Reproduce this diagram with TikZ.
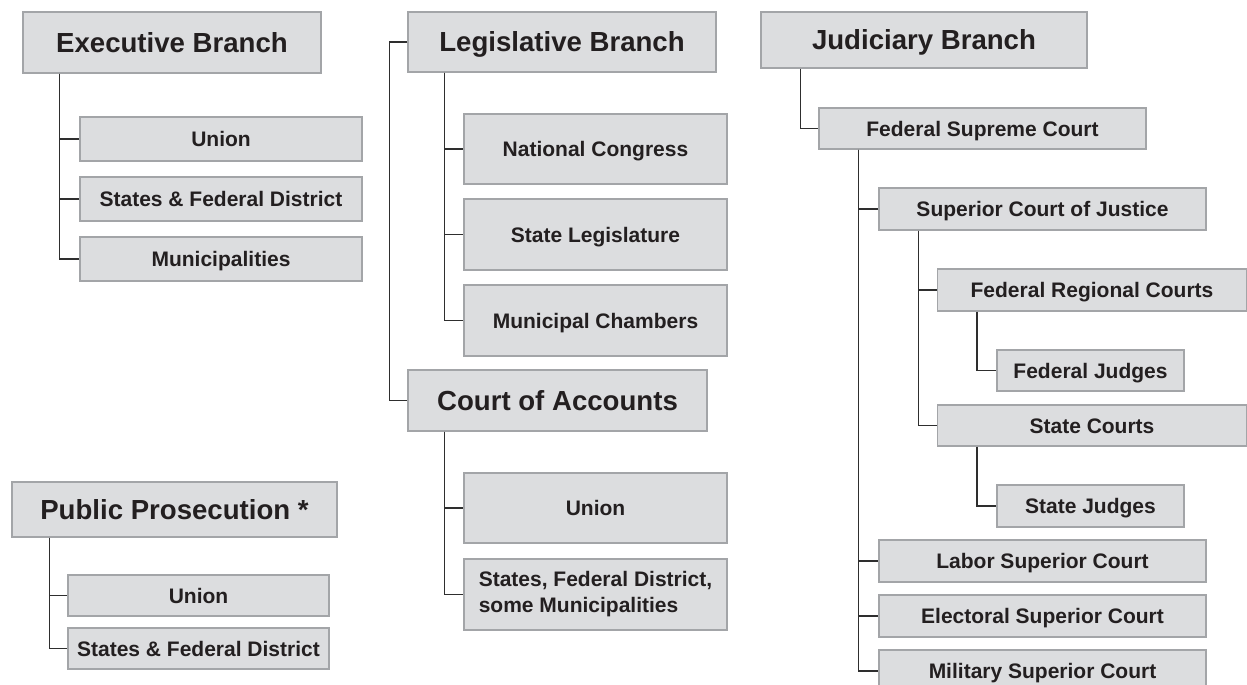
\documentclass[tikz,border=0pt]{standalone}
\usepackage{fontspec}
\setmainfont{Liberation Sans}
\definecolor{boxfill}{HTML}{DCDDDF}
\definecolor{boxline}{HTML}{A3A5A8}
\definecolor{conn}{HTML}{2E2E2E}
\definecolor{txt}{HTML}{231F20}
\begin{document}
\begin{tikzpicture}[x=1pt,y=-1pt,
  basebox/.style={draw=boxline, fill=boxfill, line width=1.4pt, inner sep=0pt,
    text=txt, font=\bfseries\fontsize{21}{26}\selectfont, align=center},
  box/.style={basebox, text height=15.04pt, text depth=0pt},
  headbox/.style={basebox, font=\bfseries\fontsize{27.6}{32}\selectfont, text height=19.76pt, text depth=0pt},
  link/.style={draw=conn, line width=1.4pt}]
\useasboundingbox (0,0) rectangle (1247,685);
% Executive
\node[headbox, minimum width=298, minimum height=61] (exec) at (172,42.5) {Executive Branch};
\node[box, minimum width=282, minimum height=44] (eunion) at (221,139) {Union};
\node[box, minimum width=282, minimum height=44] (esfd) at (221,199) {States \& Federal District};
\node[box, minimum width=282, minimum height=44] (emun) at (221,259) {Municipalities};
\draw[link] ([xshift=37]exec.south west) |- (eunion.west);
\draw[link] ([xshift=37]exec.south west) |- (esfd.west);
\draw[link] ([xshift=37]exec.south west) |- (emun.west);
% Legislative
\node[headbox, minimum width=308, minimum height=60] (leg) at (562,42) {Legislative Branch};
\node[box, minimum width=263, minimum height=70] (lnc) at (595.5,149) {National Congress};
\node[box, minimum width=263, minimum height=71] (lsl) at (595.5,234.5) {State Legislature};
\node[box, minimum width=263, minimum height=71] (lmc) at (595.5,320.5) {Municipal Chambers};
\draw[link] ([xshift=37]leg.south west) |- (lnc.west);
\draw[link] ([xshift=37]leg.south west) |- (lsl.west);
\draw[link] ([xshift=37]leg.south west) |- (lmc.west);
% Court of Accounts
\node[headbox, minimum width=299, minimum height=61] (coa) at (557.5,400.5) {Court of Accounts};
\node[box, minimum width=263, minimum height=70] (cunion) at (595.5,508) {Union};
\node[basebox, minimum width=263, minimum height=71, align=left] (csfd) at (595.5,594.5) {States, Federal District,\\some Municipalities};
\draw[link] (leg.west) -- ++(-18,0) |- (coa.west);
\draw[link] ([xshift=37]coa.south west) |- (cunion.west);
\draw[link] ([xshift=37]coa.south west) |- (csfd.west);
% Judiciary
\node[headbox, minimum width=326, minimum height=56] (jud) at (924,40) {Judiciary Branch};
\node[box, minimum width=327, minimum height=41] (fsc) at (982.5,128.5) {Federal Supreme Court};
\node[box, minimum width=327, minimum height=42] (scj) at (1042.5,209) {Superior Court of Justice};
\node[box, minimum width=309, minimum height=42] (frc) at (1092,290) {Federal Regional Courts};
\node[box, minimum width=187, minimum height=41] (fj) at (1090.5,370.5) {Federal Judges};
\node[box, minimum width=309, minimum height=41] (sc) at (1092,425.5) {State Courts};
\node[box, minimum width=187, minimum height=42] (sj) at (1090.5,506) {State Judges};
\node[box, minimum width=327, minimum height=42] (lsc) at (1042.5,561) {Labor Superior Court};
\node[box, minimum width=327, minimum height=42] (esc) at (1042.5,616) {Electoral Superior Court};
\node[box, minimum width=327, minimum height=42] (msc) at (1042.5,671) {Military Superior Court};
\draw[link] ([xshift=40]jud.south west) |- (fsc.west);
\draw[link] ([xshift=40]fsc.south west) |- (scj.west);
\draw[link] ([xshift=40]fsc.south west) |- (lsc.west);
\draw[link] ([xshift=40]fsc.south west) |- (esc.west);
\draw[link] ([xshift=40]fsc.south west) |- (msc.west);
\draw[link] ([xshift=40]scj.south west) |- (frc.west);
\draw[link] ([xshift=40]scj.south west) |- (sc.west);
\draw[link] ([xshift=40]frc.south west) |- (fj.west);
\draw[link] ([xshift=40]sc.south west) |- (sj.west);
% Public Prosecution
\node[headbox, minimum width=325, minimum height=55] (pp) at (174.5,509.5) {Public Prosecution *};
\node[box, minimum width=261, minimum height=41] (ppu) at (198.5,595.5) {Union};
\node[box, minimum width=261, minimum height=41] (ppsfd) at (198.5,648.5) {States \& Federal District};
\draw[link] ([xshift=38]pp.south west) |- (ppu.west);
\draw[link] ([xshift=38]pp.south west) |- (ppsfd.west);
\end{tikzpicture}
\end{document}
